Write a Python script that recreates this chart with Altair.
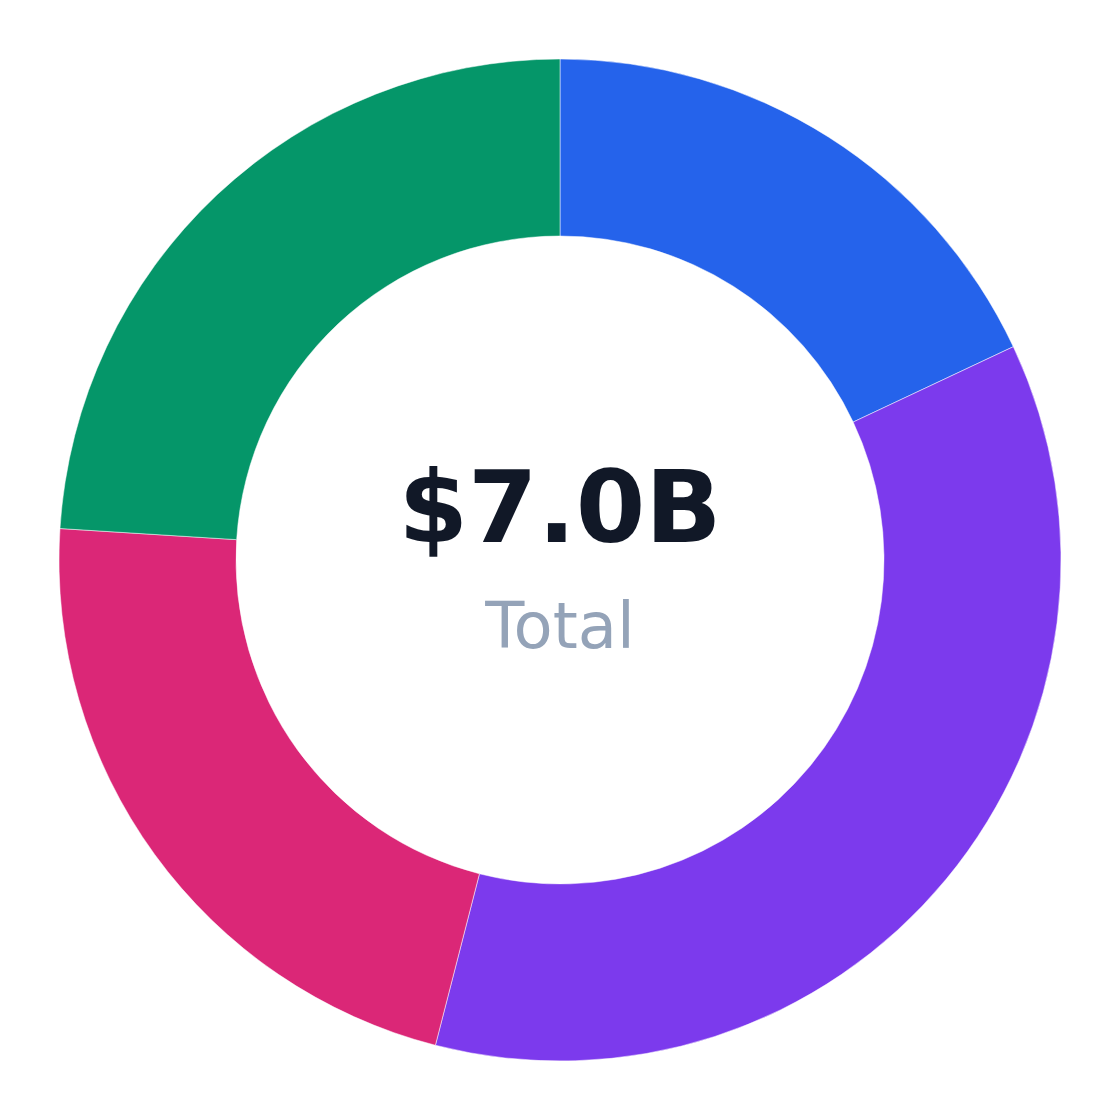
import altair as alt
import pandas as pd

categories = ["A", "B", "C", "D"]
values = [1.26, 2.52, 1.54, 1.68]
colors = ["#2563eb", "#7c3aed", "#db2777", "#059669"]
order = [0, 1, 2, 3]

df = pd.DataFrame({"category": categories, "value": values, "order": order})

arcs = alt.Chart(df).mark_arc(outerRadius=501, innerRadius=324, stroke="white", strokeWidth=0.5).encode(
    theta=alt.Theta("value:Q", stack=True),
    color=alt.Color("category:N", scale=alt.Scale(domain=categories, range=colors), legend=None),
    order=alt.Order("order:Q"),
)

center_df = pd.DataFrame({"label": ["$7.0B"], "sub": ["Total"]})

big = alt.Chart(center_df).mark_text(
    font="DejaVu Sans", fontSize=100, fontWeight="bold", color="#111827", dy=-48, baseline="middle"
).encode(text="label:N")

small = alt.Chart(center_df).mark_text(
    font="DejaVu Sans", fontSize=64, color="#94a3b8", dy=69, baseline="middle"
).encode(text="sub:N")

chart = alt.layer(arcs, big, small).properties(
    width=1104, height=1104,
    autosize=alt.AutoSizeParams(type="fit", contains="padding"),
).configure_view(stroke=None)

chart.save("out.html", embed_options={"renderer": "svg", "actions": False})
